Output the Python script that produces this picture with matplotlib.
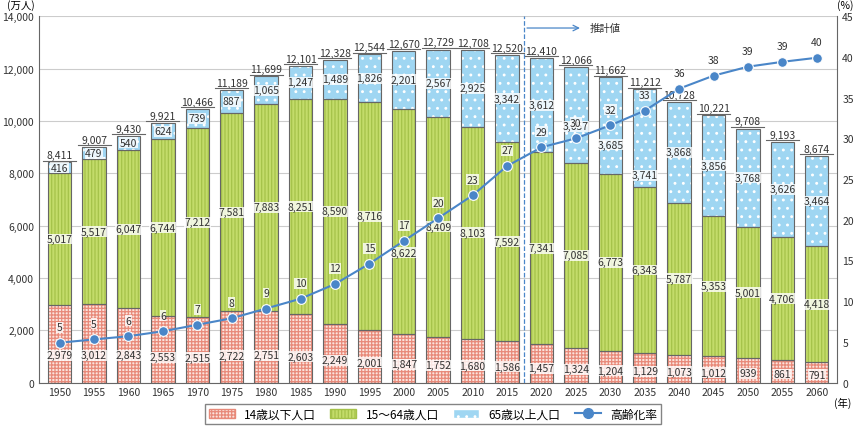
import numpy as np
import matplotlib as mpl; mpl.use("Agg")
import matplotlib.pyplot as plt
from matplotlib.patches import Patch
from matplotlib.lines import Line2D

plt.rcParams["font.family"] = ["Noto Sans CJK JP", "DejaVu Sans"]
plt.rcParams["hatch.linewidth"] = 0.9

years = [1950, 1955, 1960, 1965, 1970, 1975, 1980, 1985, 1990, 1995, 2000, 2005, 2010, 2015,
         2020, 2025, 2030, 2035, 2040, 2045, 2050, 2055, 2060]
young = [2979, 3012, 2843, 2553, 2515, 2722, 2751, 2603, 2249, 2001, 1847, 1752, 1680, 1586,
         1457, 1324, 1204, 1129, 1073, 1012, 939, 861, 791]
work = [5017, 5517, 6047, 6744, 7212, 7581, 7883, 8251, 8590, 8716, 8622, 8409, 8103, 7592,
        7341, 7085, 6773, 6343, 5787, 5353, 5001, 4706, 4418]
old = [416, 479, 540, 624, 739, 887, 1065, 1247, 1489, 1826, 2201, 2567, 2925, 3342,
       3612, 3657, 3685, 3741, 3868, 3856, 3768, 3626, 3464]
total = [8411, 9007, 9430, 9921, 10466, 11189, 11699, 12101, 12328, 12544, 12670, 12729, 12708,
         12520, 12410, 12066, 11662, 11212, 10728, 10221, 9708, 9193, 8674]
ratio = [4.9, 5.3, 5.7, 6.3, 7.1, 7.9, 9.1, 10.3, 12.1, 14.6, 17.4, 20.2, 23.0, 26.6,
         28.9, 30.0, 31.6, 33.4, 36.1, 37.7, 38.8, 39.4, 39.9]
ratio_lbl = [5, 5, 6, 6, 7, 8, 9, 10, 12, 15, 17, 20, 23, 27, 29, 30, 32, 33, 36, 38, 39, 39, 40]

x = np.arange(len(years))
fig = plt.figure(figsize=(8.66, 4.31), dpi=100)
ax = fig.add_axes([0.045, 0.11, 0.922, 0.85])
w = 0.68
y0 = np.array(young); y1 = y0 + np.array(work); y2 = y1 + np.array(old)

def layer(bottom, h, face, hc, hatch):
    ax.bar(x, h, w, bottom=bottom, color=face, edgecolor=hc, hatch=hatch, lw=0, zorder=2)
    ax.bar(x, h, w, bottom=bottom, fill=False, edgecolor="#666666", lw=0.8, zorder=3)

layer(0, young, "#fbe3dc", "#e88a7a", "+++++")
layer(y0, work, "#c3dc6a", "#a5c24a", "|||||")
layer(y1, old, "#9fd6f2", "white", "..")

box = dict(fc="white", ec="none", pad=0.3, alpha=0.8)
old_frac = {15: 0.38, 16: 0.3, 17: 0.12}
for i in range(len(x)):
    ax.text(x[i], min(y0[i] * 0.38, 1050), f"{young[i]:,}", ha="center", va="center",
            fontsize=7.5, color="#333333", bbox=box, zorder=5)
    wy = y0[i] + work[i] / 2 - (1200 if i == 10 else 0)
    ax.text(x[i], wy, f"{work[i]:,}", ha="center", va="center", fontsize=7.5,
            color="#333333", bbox=box, zorder=5)
    ax.text(x[i], y1[i] + old[i] * old_frac.get(i, 0.5), f"{old[i]:,}", ha="center",
            va="center", fontsize=7.5, color="#333333", bbox=box, zorder=5)
    ax.text(x[i], total[i] + 80, f"{total[i]:,}", ha="center", va="bottom", fontsize=7.5,
            color="#333333", zorder=5)
    ax.plot([x[i] - 0.48, x[i] + 0.48], [total[i] + 60] * 2, color="#666666", lw=0.8, zorder=5)

ax.set_xlim(-0.6, len(x) - 0.4)
ax.set_ylim(0, 14000)
ax.set_yticks(range(0, 14001, 2000))
ax.set_yticklabels([f"{v:,}" for v in range(0, 14001, 2000)], fontsize=7.5)
ax.set_xticks(x)
ax.set_xticklabels(years, fontsize=7.5)
ax.yaxis.grid(True, color="#cccccc", lw=0.8, zorder=0)
ax.set_axisbelow(True)
for s in ["top", "right"]:
    ax.spines[s].set_visible(False)
ax.spines["left"].set_color("#666666"); ax.spines["bottom"].set_color("#666666")
ax.tick_params(length=0, colors="#333333")
fig.text(0.008, 0.975, "(万人)", fontsize=7.5, ha="left", va="bottom")
ax.text(len(x) - 0.5, -0.04 * 14000, "(年)", fontsize=7.5, ha="left", va="top")

ax2 = ax.twinx()
ax2.set_ylim(0, 45)
ax2.set_yticks(range(0, 46, 5))
ax2.tick_params(labelsize=7.5, length=0, colors="#333333")
for s in ["top", "left", "bottom"]:
    ax2.spines[s].set_visible(False)
ax2.spines["right"].set_color("#666666")
fig.text(0.985, 0.975, "(%)", fontsize=7.5, ha="right", va="bottom")
ax2.plot(x, ratio, color="#4a86c8", lw=1.5, marker="o", ms=7, mfc="#4a86c8", mec="white",
         mew=0.8, zorder=6)
for i in range(len(x)):
    ax2.text(x[i], ratio[i] + 1.3, str(ratio_lbl[i]), ha="center", va="bottom", fontsize=7.5,
             color="#333333", bbox=box, zorder=7)

ax.axvline(13.5, color="#4a86c8", ls="--", lw=0.9, zorder=4)
ax.annotate("", xy=(15.2, 13550), xytext=(13.5, 13550),
            arrowprops=dict(arrowstyle="->", color="#4a86c8", lw=0.9))
ax.text(15.4, 13550, "推計値", fontsize=7.5, va="center", color="#333333")

handles = [Patch(fc="#fbe3dc", ec="#e88a7a", hatch="+++++", label="14歳以下人口"),
           Patch(fc="#c3dc6a", ec="#a5c24a", hatch="|||||", label="15～64歳人口"),
           Patch(fc="#9fd6f2", ec="white", hatch="..", label="65歳以上人口"),
           Line2D([], [], color="#4a86c8", marker="o", ms=7, lw=1.5, label="高齢化率")]
fig.legend(handles=handles, loc="lower center", ncol=4, fontsize=8.5, frameon=True,
           fancybox=False, edgecolor="#666666", bbox_to_anchor=(0.5, 0.0), handlelength=2.2,
           columnspacing=1.2, borderpad=0.3)

fig.savefig("out.png", dpi=100, facecolor="white")
